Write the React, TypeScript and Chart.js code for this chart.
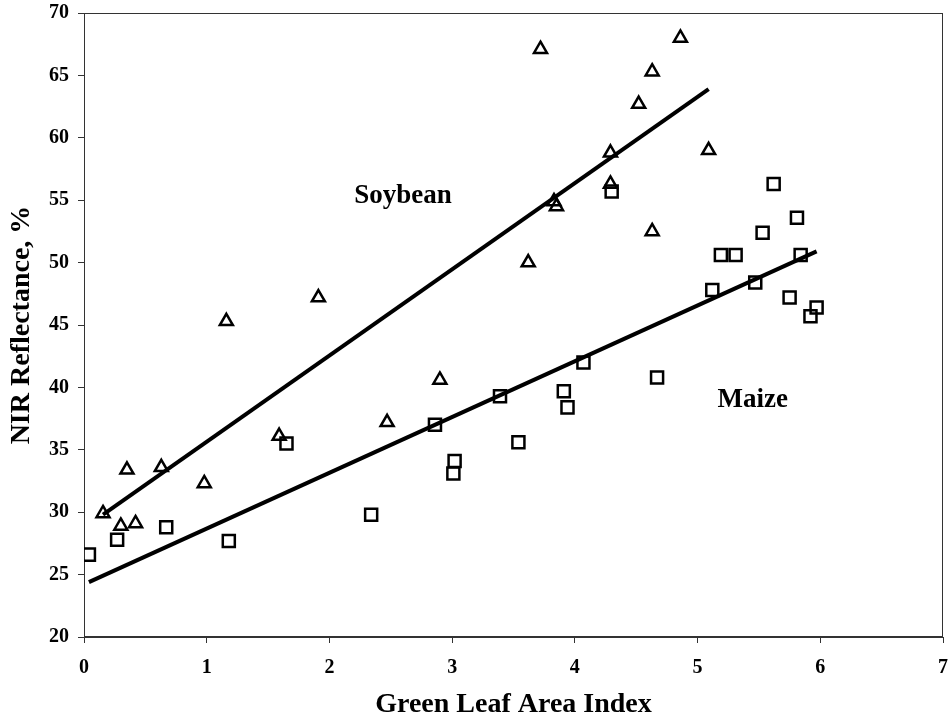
import React, { useEffect, useRef } from "react";
import { Chart, registerables } from "chart.js";

Chart.register(...registerables);

// Soybean observations (Green LAI, NIR reflectance %)
const soybeanLAI = [0.155, 0.30, 0.42, 0.35, 0.63, 0.98, 1.16, 1.59, 1.91, 2.47, 2.90, 3.72, 3.62, 3.83, 3.85, 4.29, 4.29, 4.52, 4.63, 4.86, 5.09, 4.63];
const soybeanNIR = [29.9, 28.9, 29.1, 33.4, 33.6, 32.3, 45.3, 36.1, 47.2, 37.2, 40.6, 67.1, 50.0, 54.9, 54.5, 58.8, 56.3, 62.7, 65.3, 68.0, 59.0, 52.5];

// Maize observations
const maizeLAI = [0.04, 0.27, 0.67, 1.18, 1.65, 2.34, 2.86, 3.02, 3.01, 3.39, 3.54, 3.91, 3.94, 4.07, 4.67, 4.30, 5.12, 5.19, 5.31, 5.47, 5.53, 5.62, 5.75, 5.81, 5.84, 5.97, 5.92];
const maizeNIR = [26.6, 27.8, 28.8, 27.7, 35.5, 29.8, 37.0, 34.1, 33.1, 39.3, 35.6, 39.7, 38.4, 42.0, 40.8, 55.7, 47.8, 50.6, 50.6, 48.4, 52.4, 56.3, 47.2, 53.6, 50.6, 46.4, 45.7];

// Fitted regression lines (endpoints)
const soybeanFitLAI = [0.155, 5.09];
const soybeanFitNIR = [29.8, 63.9];
const maizeFitLAI = [0.04, 5.97];
const maizeFitNIR = [24.4, 50.9];

// Axis settings
const xMin = 0, xMax = 7, xStep = 1;
const yMin = 20, yMax = 70, yStep = 5;

// In-plot labels
const labelTexts = ["Soybean", "Maize"];
const labelLAI = [2.6, 5.45];
const labelNIR = [55.3, 39.0];

const xTitle = "Green Leaf Area Index";
const yTitle = "NIR Reflectance, %";

const zip = (xs: number[], ys: number[]) => xs.map((x, i) => ({ x, y: ys[i] }));

const FONT = "'Liberation Serif', 'Times New Roman', serif";

export default function App() {
  const ref = useRef<HTMLCanvasElement | null>(null);

  useEffect(() => {
    document.body.style.margin = "0";
    const canvas = ref.current;
    if (!canvas) return;

    const boxPlugin = {
      id: "box",
      beforeDatasetsDraw(chart: any) {
        const { ctx, chartArea: a } = chart;
        ctx.save();
        ctx.strokeStyle = "#333";
        ctx.lineWidth = 1;
        ctx.strokeRect(a.left + 0.5, a.top + 0.5, a.right - a.left - 1, a.bottom - a.top - 1);
        ctx.restore();
      },
    };

    const labelPlugin = {
      id: "labels",
      afterDatasetsDraw(chart: any) {
        const { ctx, scales } = chart;
        ctx.save();
        ctx.fillStyle = "#000";
        ctx.font = `bold 27px ${FONT}`;
        ctx.textAlign = "center";
        ctx.textBaseline = "middle";
        labelTexts.forEach((t, i) => {
          ctx.fillText(t, scales.x.getPixelForValue(labelLAI[i]), scales.y.getPixelForValue(labelNIR[i]));
        });
        ctx.restore();
      },
    };

    const tickFont = { family: FONT, weight: "bold" as const, size: 20 };
    const titleFont = { family: FONT, weight: "bold" as const, size: 28 };

    const chart = new Chart(canvas, {
      type: "scatter",
      data: {
        datasets: [
          {
            label: "Soybean fit",
            data: zip(soybeanFitLAI, soybeanFitNIR),
            showLine: true,
            borderColor: "#000",
            borderWidth: 4,
            pointRadius: 0,
            fill: false,
          },
          {
            label: "Maize fit",
            data: zip(maizeFitLAI, maizeFitNIR),
            showLine: true,
            borderColor: "#000",
            borderWidth: 4,
            pointRadius: 0,
            fill: false,
          },
          {
            label: "Soybean",
            data: zip(soybeanLAI, soybeanNIR),
            pointStyle: "triangle",
            pointRadius: 7.5,
            borderColor: "#000",
            borderWidth: 2.5,
            backgroundColor: "rgba(0,0,0,0)",
          },
          {
            label: "Maize",
            data: zip(maizeLAI, maizeNIR),
            pointStyle: "rect",
            pointRadius: 8.5,
            borderColor: "#000",
            borderWidth: 2.5,
            backgroundColor: "rgba(0,0,0,0)",
          },
        ],
      },
      options: {
        responsive: false,
        animation: false,
        layout: { autoPadding: false, padding: { top: 13, right: 6, left: 0, bottom: 0 } },
        plugins: { legend: { display: false }, tooltip: { enabled: false } },
        scales: {
          x: {
            type: "linear",
            min: xMin,
            max: xMax,
            ticks: { stepSize: xStep, font: tickFont, color: "#000", padding: 13 },
            grid: { drawOnChartArea: false, tickLength: 6, color: "#333" },
            border: { color: "#333", width: 1 },
            title: { display: true, text: xTitle, font: titleFont, color: "#000", padding: { top: 0, bottom: 3 } },
            afterFit(s: any) {
              s.height = 88;
              s.paddingLeft = 0;
              s.paddingRight = 0;
            },
          },
          y: {
            type: "linear",
            min: yMin,
            max: yMax,
            ticks: { stepSize: yStep, font: tickFont, color: "#000", padding: 9 },
            grid: { drawOnChartArea: false, tickLength: 6, color: "#333" },
            border: { color: "#333", width: 1 },
            title: { display: true, text: yTitle, font: titleFont, color: "#000", padding: { top: 5, bottom: 0 } },
            afterFit(s: any) {
              s.width = 84;
              s.paddingTop = 0;
              s.paddingBottom = 0;
            },
          },
        },
      },
      plugins: [boxPlugin, labelPlugin],
    });

    return () => chart.destroy();
  }, []);

  return (
    <div style={{ position: "absolute", left: 0, top: 0, width: 949, height: 725, background: "#fff" }}>
      <canvas ref={ref} width={949} height={725} style={{ width: 949, height: 725 }} />
    </div>
  );
}
